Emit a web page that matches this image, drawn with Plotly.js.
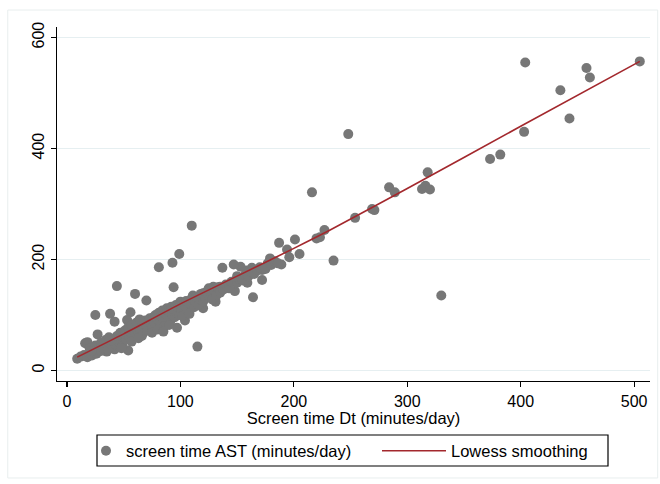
<!DOCTYPE html>
<html>
<head>
<meta charset="utf-8">
<script src="https://cdn.plot.ly/plotly-3.0.1.min.js"></script>
<style>html,body{margin:0;padding:0;background:#fff;}#chart{width:660px;height:484px;}</style>
</head>
<body>
<div id="chart"></div>
<script>
// Screen time Dt (minutes/day) for each participant
const screenDt = [
  404,505,458,461,435,443,403,248,373,382,318,313,316,320,284,289,269,271,254,235,330,
  216,227,220,223,201,187,194,205,196,189,179,177,172,172,163,164,158,159,153,147,150,148,
  137,142,135,129,125,131,120,120,111,110,115,99,93,94,81,100,97,104,60,44,70,25,38,42,56,53,54,
  9,16,18,27,42,35,67,91,
  12,15,18,20,22,24,26,28,30,31,33,35,36,38,40,41,43,45,46,48,49,50,52,53,55,56,58,59,60,62,
  63,64,65,66,67,68,69,70,71,72,73,74,75,76,77,78,79,80,81,82,83,84,85,86,87,88,89,90,91,92,
  93,94,95,96,97,98,99,100,101,102,104,105,106,108,109,110,112,113,114,116,117,118,120,122,123,
  125,127,128,130,132,133,135,138,140,143,145,150,152,155,157,160,162,165,168,170,175,180,183,186,
  20,25,30,22,34,37,39,44,47,51,54,57,61,64,48,57,63,75,80,85,90
];
// Screen time AST (minutes/day) for each participant
const screenAST = [
  555,557,545,528,505,454,430,426,381,389,357,327,333,326,330,321,291,289,275,198,135,
  321,253,238,240,236,230,218,210,204,191,202,193,181,163,185,132,180,158,187,191,170,143,
  185,151,151,151,148,124,112,139,135,261,43,210,194,150,186,124,77,90,138,152,126,100,102,88,105,91,36,
  21,49,51,65,38,34,67,109,
  25,28,24,30,27,33,30,38,35,42,40,45,38,48,44,52,47,55,50,58,45,62,56,65,60,70,63,72,66,75,
  68,80,73,62,85,77,90,80,72,88,94,84,78,96,88,100,82,92,104,86,98,108,94,80,102,112,96,106,88,115,
  100,108,96,118,104,112,100,120,108,98,116,125,110,102,120,130,114,124,133,118,128,138,124,130,142,
  134,140,128,145,136,150,140,146,155,148,160,158,165,162,172,170,178,174,180,186,183,190,197,193,
  40,45,50,35,55,60,54,62,68,72,78,82,86,92,40,52,58,68,74,70,82
];
// Lowess smoothing curve
const lowessX = [9, 50, 100, 150, 200, 232, 300, 400, 505];
const lowessY = [24, 66, 120, 170, 220, 253, 328, 440, 557];

const xTicks = [0, 100, 200, 300, 400, 500];
const yTicks = [0, 200, 400, 600];

const font = {family: 'Liberation Sans, Arial, sans-serif', color: '#000'};
const f = (s) => Object.assign({size: s}, font);

const traces = [
  {
    x: screenDt, y: screenAST, type: 'scatter', mode: 'markers',
    name: 'screen time AST (minutes/day)', legend: 'legend',
    marker: {color: '#777777', size: 10, line: {width: 0}}
  },
  {
    x: lowessX, y: lowessY, type: 'scatter', mode: 'lines', legend: 'legend2',
    name: 'Lowess smoothing', line: {color: '#a3282d', width: 1.6, shape: 'spline', smoothing: 0.6}
  }
];

const legendY = 1 - 451 / 484;
const layout = {
  width: 660, height: 484,
  margin: {l: 57, r: 10, t: 27, b: 103, autoexpand: false},
  paper_bgcolor: '#fff', plot_bgcolor: '#fff',
  font: f(16),
  showlegend: true,
  legend: {
    orientation: 'h', xref: 'container', yref: 'container',
    x: 86 / 660, xanchor: 'left', y: legendY, yanchor: 'middle',
    borderwidth: 0, bgcolor: 'rgba(0,0,0,0)', font: f(16.5), itemwidth: 30
  },
  legend2: {
    orientation: 'h', xref: 'container', yref: 'container',
    x: 377 / 660, xanchor: 'left', y: legendY, yanchor: 'middle',
    borderwidth: 0, bgcolor: 'rgba(0,0,0,0)', font: f(16.5), itemwidth: 64
  },
  xaxis: {
    range: [-8.8, 514], tickvals: xTicks, ticktext: xTicks.map(String),
    showline: true, linecolor: '#000', linewidth: 1.3, mirror: false,
    ticks: 'outside', ticklen: 5, tickcolor: '#000', tickwidth: 1.2,
    showgrid: false, zeroline: false,
    tickfont: f(16),
    title: {text: 'Screen time Dt (minutes/day)', font: f(16.5), standoff: 0}
  },
  yaxis: {
    range: [-19, 619], tickvals: yTicks, ticktext: yTicks.map(String),
    showline: true, linecolor: '#000', linewidth: 1.3,
    ticks: 'outside', ticklen: 5, tickcolor: '#000', tickwidth: 1.2,
    showgrid: true, gridcolor: '#e6eff1', gridwidth: 1, zeroline: false,
    tickangle: -90, tickfont: f(16)
  },
  shapes: [
    {type: 'rect', xref: 'paper', yref: 'paper', x0: -0.083, x1: 1.013, y0: -0.274, y1: 1.048,
     line: {color: '#e8eeee', width: 1}, fillcolor: 'rgba(0,0,0,0)', layer: 'below'},
    {type: 'rect', xref: 'paper', yref: 'paper', x0: (97 - 57) / 593, x1: (608 - 57) / 593,
     y0: (381 - 466) / 354, y1: (381 - 435) / 354,
     line: {color: '#000', width: 1.2}, fillcolor: 'rgba(0,0,0,0)', layer: 'below'}
  ]
};

Plotly.newPlot('chart', traces, layout, {displayModeBar: false, staticPlot: true});
</script>
</body>
</html>
